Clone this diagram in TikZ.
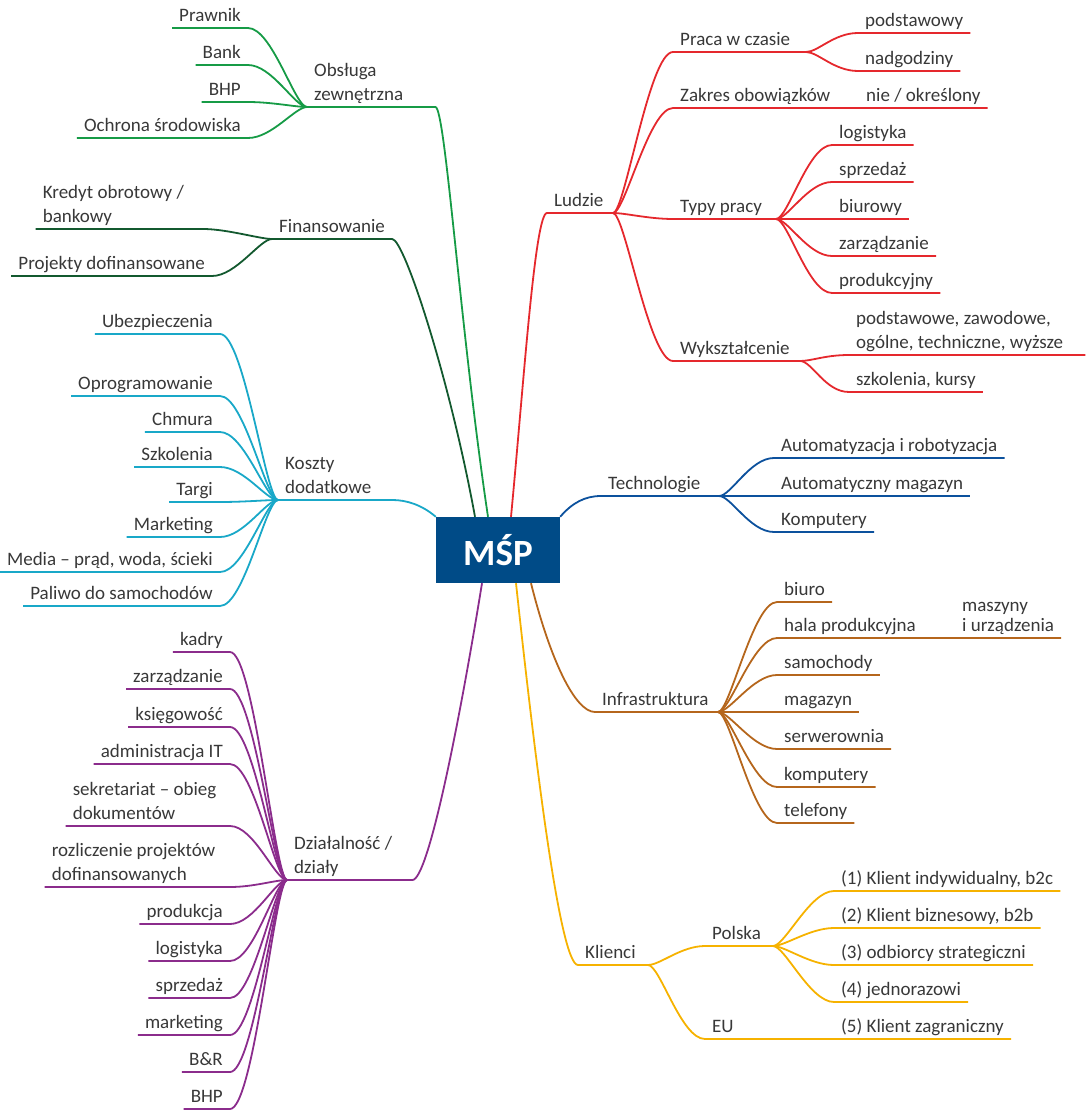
\documentclass[tikz,border=0pt]{standalone}
\usepackage{fontspec}
\setmainfont{Carlito}
\definecolor{MspBlue}{HTML}{004B87}
\definecolor{MapText}{HTML}{383838}
\definecolor{ObsGreen}{HTML}{169B46}
\definecolor{FinGreen}{HTML}{13592F}
\definecolor{KosCyan}{HTML}{19A8C8}
\definecolor{DzPurple}{HTML}{8B2C8C}
\definecolor{LudRed}{HTML}{E5282D}
\definecolor{TechBlue}{HTML}{0C519D}
\definecolor{InfBrown}{HTML}{B5661C}
\definecolor{KliYellow}{HTML}{F6B200}
\newcommand\mapfont{\fontsize{19}{24}\selectfont}
\newcommand\lowstrut{\rule[-4.5pt]{0pt}{4.5pt}}

\begin{document}
\begin{tikzpicture}[x=1pt,y=-1pt,
    leaf/.style={font=\mapfont,text=MapText,inner xsep=7pt,inner ysep=1.5pt,text height=12pt,text depth=4.5pt},
    leafm/.style={font=\mapfont,text=MapText,inner xsep=7pt,inner ysep=1.5pt,align=flush left},
    core/.style={fill=MspBlue,text=white,minimum width=124pt,minimum height=66pt,font=\fontsize{37}{40}\selectfont\bfseries},
    toL/.style={to path={.. controls +(-12,0) and +(24,0) .. (\tikztotarget)}},
    toR/.style={to path={.. controls +(12,0) and +(-24,0) .. (\tikztotarget)}},
    br/.style={line width=1.8pt},
    cObs/.style={br,draw=ObsGreen},
    cFin/.style={br,draw=FinGreen},
    cKos/.style={br,draw=KosCyan},
    cDz/.style={br,draw=DzPurple},
    cLud/.style={br,draw=LudRed},
    cTech/.style={br,draw=TechBlue},
    cInf/.style={br,draw=InfBrown},
    cKli/.style={br,draw=KliYellow}
  ]
    \useasboundingbox (0,0) rectangle (1086,1110);
    \node[core] (msp) at (498,550) {MŚP};

    \node[leafm,text width=114pt,anchor=south west] (obs) at (307,107) {Obsługa\\zewnętrzna\lowstrut};
    \node[leaf,anchor=south east] (prawnik) at (248,28) {Prawnik};
    \node[leaf,anchor=south east] (bank) at (248,65) {Bank};
    \node[leaf,anchor=south east] (bhpObs) at (248,102) {BHP};
    \node[leaf,anchor=south east] (ochrona) at (248,138) {Ochrona środowiska};

    \node[leaf,anchor=south west] (fin) at (272,239) {Finansowanie};
    \node[leafm,text width=153pt,anchor=south east] (kredyt) at (203,229) {Kredyt obrotowy /\\bankowy\lowstrut};
    \node[leaf,anchor=south east] (projekty) at (212,276) {Projekty dofinansowane};

    \node[leafm,text width=100pt,anchor=south west] (koszty) at (278,500) {Koszty\\dodatkowe\lowstrut};
    \node[leaf,anchor=south east] (ubezp) at (220,334) {Ubezpieczenia};
    \node[leaf,anchor=south east] (oprog) at (220,396) {Oprogramowanie};
    \node[leaf,anchor=south east] (chmura) at (220,432) {Chmura};
    \node[leaf,anchor=south east] (szkol) at (220,467) {Szkolenia};
    \node[leaf,anchor=south east] (targi) at (220,502) {Targi};
    \node[leaf,anchor=south east] (markK) at (220,537) {Marketing};
    \node[leaf,anchor=south east] (media) at (220,572) {Media – prąd, woda, ścieki};
    \node[leaf,anchor=south east] (paliwo) at (220,606) {Paliwo do samochodów};

    \node[leafm,text width=111pt,anchor=south west] (dzial) at (287,880) {Działalność /\\działy\lowstrut};
    \node[leaf,anchor=south east] (kadry) at (230,652) {kadry};
    \node[leaf,anchor=south east] (zarzD) at (230,689) {zarządzanie};
    \node[leaf,anchor=south east] (ksieg) at (230,727) {księgowość};
    \node[leaf,anchor=south east] (admin) at (230,764) {administracja IT};
    \node[leafm,text width=150pt,anchor=south east] (sekr) at (230,826) {sekretariat – obieg\\dokumentów\lowstrut};
    \node[leafm,text width=171pt,anchor=south east] (rozl) at (230,887) {rozliczenie projektów\\dofinansowanych\lowstrut};
    \node[leaf,anchor=south east] (prodD) at (230,924) {produkcja};
    \node[leaf,anchor=south east] (logD) at (230,961) {logistyka};
    \node[leaf,anchor=south east] (sprzD) at (230,998) {sprzedaż};
    \node[leaf,anchor=south east] (markD) at (230,1035) {marketing};
    \node[leaf,anchor=south east] (bir) at (230,1072) {B\&R};
    \node[leaf,anchor=south east] (bhpD) at (230,1109) {BHP};

    \node[leaf,anchor=south west] (ludzie) at (547,213) {Ludzie};
    \coordinate (ludJ) at (613,213);
    \node[leaf,anchor=south west] (praca) at (673,52) {Praca w czasie};
    \coordinate (pracaJ) at (806,52);
    \node[leaf,anchor=south west] (podst) at (858,33) {podstawowy};
    \node[leaf,anchor=south west] (nadg) at (858,71) {nadgodziny};
    \node[leaf,anchor=south west] (zakres) at (673,108) {Zakres obowiązków};
    \node[leaf,anchor=south west] (okresl) at (859,108) {nie / określony};
    \node[leaf,anchor=south west] (typy) at (673,219) {Typy pracy};
    \coordinate (typyJ) at (776,219);
    \node[leaf,anchor=south west] (logL) at (832,145) {logistyka};
    \node[leaf,anchor=south west] (sprzL) at (832,182) {sprzedaż};
    \node[leaf,anchor=south west] (biur) at (832,219) {biurowy};
    \node[leaf,anchor=south west] (zarzL) at (832,256) {zarządzanie};
    \node[leaf,anchor=south west] (prodL) at (832,293) {produkcyjny};
    \node[leaf,anchor=south west] (wyksz) at (673,361) {Wykształcenie};
    \coordinate (wykszJ) at (800,361);
    \node[leafm,text width=222pt,anchor=south west] (poziom) at (849,355) {podstawowe, zawodowe,\\ogólne, techniczne, wyższe\lowstrut};
    \node[leaf,anchor=south west] (kursy) at (849,392) {szkolenia, kursy};

    \node[leaf,anchor=south west] (tech) at (601,496) {Technologie};
    \coordinate (techJ) at (719,496);
    \node[leaf,anchor=south west] (autom) at (774,458) {Automatyzacja i robotyzacja};
    \node[leaf,anchor=south west] (magA) at (774,496) {Automatyczny magazyn};
    \node[leaf,anchor=south west] (kompT) at (774,532) {Komputery};

    \node[leaf,anchor=south west] (infra) at (595,712) {Infrastruktura};
    \coordinate (infraJ) at (718,712);
    \node[leaf,anchor=south west] (biuro) at (777,602) {biuro};
    \node[leaf,anchor=south west] (hala) at (777,638) {hala produkcyjna};
    \node[leafm,font=\fontsize{19}{20}\selectfont,anchor=south west] (maszyny) at (955,638) {maszyny\\i urządzenia\lowstrut};
    \node[leaf,anchor=south west] (samoch) at (777,675) {samochody};
    \node[leaf,anchor=south west] (magI) at (777,712) {magazyn};
    \node[leaf,anchor=south west] (serw) at (777,749) {serwerownia};
    \node[leaf,anchor=south west] (kompI) at (777,787) {komputery};
    \node[leaf,anchor=south west] (telef) at (777,823) {telefony};

    \node[leaf,anchor=south west] (klienci) at (578,965) {Klienci};
    \coordinate (kliJ) at (648,965);
    \node[leaf,anchor=south west] (polska) at (705,946) {Polska};
    \coordinate (polJ) at (773,946);
    \node[leaf,anchor=south west] (kl1) at (834,891) {(1) Klient indywidualny, b2c};
    \node[leaf,anchor=south west] (kl2) at (834,928) {(2) Klient biznesowy, b2b};
    \node[leaf,anchor=south west] (kl3) at (834,965) {(3) odbiorcy strategiczni};
    \node[leaf,anchor=south west] (kl4) at (834,1002) {(4) jednorazowi};
    \node[leaf,anchor=south west] (eu) at (705,1039) {EU};
    \node[leaf,anchor=south west] (kl5) at (834,1039) {(5) Klient zagraniczny};

    \draw[cObs] ([xshift=-10pt]msp.north) .. controls +(-28,-187) and +(10,0) .. (obs.south east) -- (obs.south west);
    \draw[cObs] (obs.south west) to[toL] (prawnik.south east) -- (prawnik.south west);
    \draw[cObs] (obs.south west) to[toL] (bank.south east) -- (bank.south west);
    \draw[cObs] (obs.south west) to[toL] (bhpObs.south east) -- (bhpObs.south west);
    \draw[cObs] (obs.south west) to[toL] (ochrona.south east) -- (ochrona.south west);

    \draw[cFin] ([xshift=-23pt]msp.north) .. controls +(-25,-137) and +(12,0) .. (fin.south east) -- (fin.south west);
    \draw[cFin] (fin.south west) to[toL] (kredyt.south east) -- (kredyt.south west);
    \draw[cFin] (fin.south west) to[toL] (projekty.south east) -- (projekty.south west);

    \draw[cKos] (msp.north west) .. controls +(-14,-12) and +(14,0) .. (koszty.south east) -- (koszty.south west);
    \draw[cKos] (koszty.south west) to[toL] (ubezp.south east) -- (ubezp.south west);
    \draw[cKos] (koszty.south west) to[toL] (oprog.south east) -- (oprog.south west);
    \draw[cKos] (koszty.south west) to[toL] (chmura.south east) -- (chmura.south west);
    \draw[cKos] (koszty.south west) to[toL] (szkol.south east) -- (szkol.south west);
    \draw[cKos] (koszty.south west) to[toL] (targi.south east) -- (targi.south west);
    \draw[cKos] (koszty.south west) to[toL] (markK.south east) -- (markK.south west);
    \draw[cKos] (koszty.south west) to[toL] (media.south east) -- (media.south west);
    \draw[cKos] (koszty.south west) to[toL] (paliwo.south east) -- (paliwo.south west);

    \draw[cDz] ([xshift=-16pt]msp.south) .. controls +(-22,136) and +(16,0) .. (dzial.south east) -- (dzial.south west);
    \draw[cDz] (dzial.south west) to[toL] (kadry.south east) -- (kadry.south west);
    \draw[cDz] (dzial.south west) to[toL] (zarzD.south east) -- (zarzD.south west);
    \draw[cDz] (dzial.south west) to[toL] (ksieg.south east) -- (ksieg.south west);
    \draw[cDz] (dzial.south west) to[toL] (admin.south east) -- (admin.south west);
    \draw[cDz] (dzial.south west) to[toL] (sekr.south east) -- (sekr.south west);
    \draw[cDz] (dzial.south west) to[toL] (rozl.south east) -- (rozl.south west);
    \draw[cDz] (dzial.south west) to[toL] (prodD.south east) -- (prodD.south west);
    \draw[cDz] (dzial.south west) to[toL] (logD.south east) -- (logD.south west);
    \draw[cDz] (dzial.south west) to[toL] (sprzD.south east) -- (sprzD.south west);
    \draw[cDz] (dzial.south west) to[toL] (markD.south east) -- (markD.south west);
    \draw[cDz] (dzial.south west) to[toL] (bir.south east) -- (bir.south west);
    \draw[cDz] (dzial.south west) to[toL] (bhpD.south east) -- (bhpD.south west);

    \draw[cLud] ([xshift=13pt]msp.north) .. controls +(13,-137) and +(-12,0) .. (ludzie.south west) -- (ludJ);
    \draw[cLud] (ludJ) to[toR] (praca.south west) -- (pracaJ);
    \draw[cLud] (pracaJ) to[toR] (podst.south west) -- (podst.south east);
    \draw[cLud] (pracaJ) to[toR] (nadg.south west) -- (nadg.south east);
    \draw[cLud] (ludJ) to[toR] (zakres.south west) -- (okresl.south east);
    \draw[cLud] (ludJ) to[toR] (typy.south west) -- (typyJ);
    \draw[cLud] (typyJ) to[toR] (logL.south west) -- (logL.south east);
    \draw[cLud] (typyJ) to[toR] (sprzL.south west) -- (sprzL.south east);
    \draw[cLud] (typyJ) to[toR] (biur.south west) -- (biur.south east);
    \draw[cLud] (typyJ) to[toR] (zarzL.south west) -- (zarzL.south east);
    \draw[cLud] (typyJ) to[toR] (prodL.south west) -- (prodL.south east);
    \draw[cLud] (ludJ) to[toR] (wyksz.south west) -- (wykszJ);
    \draw[cLud] (wykszJ) to[toR] (poziom.south west) -- (poziom.south east);
    \draw[cLud] (wykszJ) to[toR] (kursy.south west) -- (kursy.south east);

    \draw[cTech] (msp.north east) .. controls +(12,-14) and +(-16,0) .. (tech.south west) -- (techJ);
    \draw[cTech] (techJ) to[toR] (autom.south west) -- (autom.south east);
    \draw[cTech] (techJ) to[toR] (magA.south west) -- (magA.south east);
    \draw[cTech] (techJ) to[toR] (kompT.south west) -- (kompT.south east);

    \draw[cInf] ([xshift=33pt]msp.south) .. controls +(19,76) and +(-20,0) .. (infra.south west) -- (infraJ);
    \draw[cInf] (infraJ) to[toR] (biuro.south west) -- (biuro.south east);
    \draw[cInf] (infraJ) to[toR] (hala.south west) -- (maszyny.south east);
    \draw[cInf] (infraJ) to[toR] (samoch.south west) -- (samoch.south east);
    \draw[cInf] (infraJ) to[toR] (magI.south west) -- (magI.south east);
    \draw[cInf] (infraJ) to[toR] (serw.south west) -- (serw.south east);
    \draw[cInf] (infraJ) to[toR] (kompI.south west) -- (kompI.south east);
    \draw[cInf] (infraJ) to[toR] (telef.south west) -- (telef.south east);

    \draw[cKli] ([xshift=18pt]msp.south) .. controls +(19,176) and +(-18,0) .. (klienci.south west) -- (kliJ);
    \draw[cKli] (kliJ) to[toR] (polska.south west) -- (polJ);
    \draw[cKli] (kliJ) to[toR] (eu.south west) -- (kl5.south east);
    \draw[cKli] (polJ) to[toR] (kl1.south west) -- (kl1.south east);
    \draw[cKli] (polJ) to[toR] (kl2.south west) -- (kl2.south east);
    \draw[cKli] (polJ) to[toR] (kl3.south west) -- (kl3.south east);
    \draw[cKli] (polJ) to[toR] (kl4.south west) -- (kl4.south east);
  \end{tikzpicture}
\end{document}
